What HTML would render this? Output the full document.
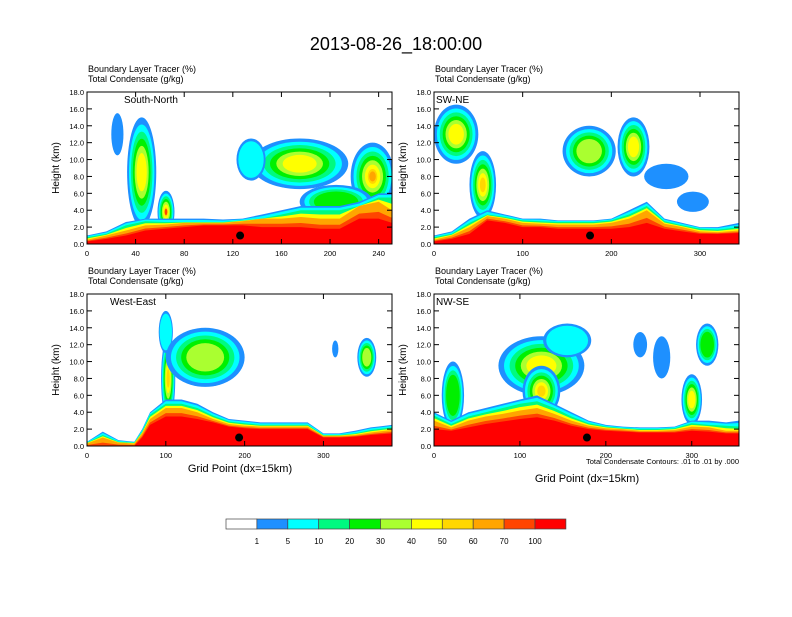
<!DOCTYPE html>
<html><head><meta charset="utf-8"><style>
body{margin:0;background:#fff;}
svg text{font-family:"Liberation Sans",sans-serif;}
</style></head><body>
<svg id="chart" width="792" height="612" xmlns="http://www.w3.org/2000/svg">
<rect width="792" height="612" fill="#fff"/>
<text x="396" y="50" text-anchor="middle" font-size="18">2013-08-26_18:00:00</text>
<g id="panels"></g>
<g id="legend"></g>
<text x="240" y="472" text-anchor="middle" font-size="11">Grid Point (dx=15km)</text>
<text x="587" y="482" text-anchor="middle" font-size="11">Grid Point (dx=15km)</text>
<text x="739" y="464" text-anchor="end" font-size="7.5">Total Condensate Contours: .01 to .01 by .000</text>
</svg>
<script>
const colors=["#ffffff","#1e90ff","#00ffff","#00fa80","#00f000","#aaff30","#ffff00","#ffd700","#ffa500","#ff4500","#ff0000"];
const legendLabels=["1","5","10","20","30","40","50","60","70","100"];
const panelTitles=["South-North","SW-NE","West-East","NW-SE"];
const panelXmax=[251,344,387,355];
const panelXticks=[[0,40,80,120,160,200,240],[0,100,200,300],[0,100,200,300],[0,100,200,300]];
const yTicks=[0,2,4,6,8,10,12,14,16,18];
// low-level layer heights (km) at sample points
const xsP1=[0,16,32,48,64,80,96,112,128,144,160,176,192,208,224,240,251];
const blueP1=[1,1.5,2.6,3,3,3,3,2.9,3,3.5,4,4.5,4.5,4.5,5,6,6];
const greenP1=[0.8,1.2,2.2,2.7,2.6,2.6,2.6,2.6,2.8,3,3.5,4,4,4,4.5,5.5,5.5];
const orangeP1=[0.5,1,1.6,2.2,2.3,2.5,2.5,2.5,2.7,3,3,3.2,3,3,4.5,5,4];
const redP1=[0.3,0.6,1,1.6,1.8,2,2.2,2.2,2.2,2,2,2,1.8,1.8,3,3,2.5];
const xsP2=[0,20,40,60,80,100,120,140,160,180,200,220,240,260,280,300,320,344];
const blueP2=[1,1.5,3,4,3.5,3,3,2.8,2.8,2.8,3,4,5,3,2.5,2,2,2.5];
const greenP2=[0.8,1.2,2.5,3.5,3.2,2.8,2.7,2.6,2.6,2.6,2.8,3.5,4.5,2.7,2.2,1.8,1.7,2];
const orangeP2=[0.5,1,2,3.3,3,2.5,2.4,2.3,2.3,2.3,2.5,3,4,2.4,2,1.5,1.4,1.6];
const redP2=[0.3,0.6,1.2,2.8,2.5,2,2,1.8,1.8,1.8,1.8,2,2.5,1.8,1.5,1.2,1.2,1.3];
const xsP3=[0,20,40,60,70,80,100,120,140,160,180,200,220,240,260,280,300,320,340,360,387];
const blueP3=[0.5,1.7,0.7,0.5,2,4,5.5,5.5,5,4,3.2,3,2.8,2.8,2.8,2.8,1.5,1.5,1.8,2.2,2.5];
const greenP3=[0.4,1.3,0.5,0.4,1.7,3.7,5,5,4.5,3.6,2.9,2.7,2.5,2.5,2.5,2.5,1.3,1.3,1.5,1.9,2.2];
const orangeP3=[0.3,1,0.4,0.3,1.5,3.2,4.5,4.5,4,3.2,2.6,2.4,2.3,2.3,2.3,2.3,1.2,1.2,1.3,1.6,1.9];
const redP3=[0,0,0,0,1,2.5,3.5,3.5,3.2,2.8,2.3,2.1,2,2,2,2,1,1,1.1,1.3,1.5];
const xsP4=[0,20,40,60,80,100,120,140,160,180,200,220,240,260,280,300,320,340,355];
const blueP4=[4,3,4,4.5,5,5.5,6,5,4,3,2.5,2.3,2.2,2.2,2.3,3,3,2.8,3];
const greenP4=[3.6,2.6,3.5,4,4.5,5,5.3,4.5,3.5,2.7,2.3,2.1,2,2,2.1,2.7,2.5,2.4,2.3];
const orangeP4=[3,2.2,3,3.5,3.8,4.2,4.5,3.8,3,2.4,2.1,2,1.8,1.8,1.9,2.3,2.2,1.8,1.8];
const redP4=[2,1.8,2.2,2.6,2.9,3.2,3.4,3,2.4,2,1.8,1.7,1.6,1.6,1.6,1.8,1.7,1.5,1.5];
// cloud blobs: [centerX, centerKm, radiusX, radiusKm, maxLevel]
const blobsP1=[[45,8.5,12,6.5,6],[25,13,5,2.5,1],[65,3.8,7,2.5,9],[175,9.5,40,3,6],[135,10,12,2.5,2],[235,8,18,4,8],[205,5,30,2,4]];
const blobsP2=[[25,13,25,3.5,6],[55,7,15,4,7],[175,11,30,3,5],[225,11.5,18,3.5,6],[262,8,25,1.5,1],[292,5,18,1.2,1]];
const blobsP3=[[103,8,9,5,7],[100,13.5,9,2.5,2],[150,10.5,50,3.5,5],[355,10.5,12,2.3,5],[315,11.5,4,1,1]];
const blobsP4=[[22,6,13,4,4],[125,9.5,50,3.5,6],[125,6.5,22,3,7],[155,12.5,28,2,2],[300,5.5,12,3,6],[318,12,13,2.5,4],[265,10.5,10,2.5,1],[240,12,8,1.5,1]];
const layersAll=[[xsP1,blueP1,greenP1,orangeP1,redP1],[xsP2,blueP2,greenP2,orangeP2,redP2],[xsP3,blueP3,greenP3,orangeP3,redP3],[xsP4,blueP4,greenP4,orangeP4,redP4]];
const blobsAll=[blobsP1,blobsP2,blobsP3,blobsP4];
const dotX=[126,176,193,178];
const NS="http://www.w3.org/2000/svg";
function mk(tag,attrs,parent){const e=document.createElementNS(NS,tag);for(const k in attrs)e.setAttribute(k,attrs[k]);parent.appendChild(e);return e;}
const boxes=[[87,92],[434,92],[87,294],[434,294]];
const W=305,H=152;
const root=document.getElementById('panels');
for(let p=0;p<4;p++){
  const [X0,Y0]=boxes[p];
  const g=mk('g',{},root);
  
  
  const sx=v=>X0+v/panelXmax[p]*W;
  const sy=v=>Y0+H-v/18*H;
  const cid='clip'+p;
  const cp=mk('clipPath',{id:cid},g);mk('rect',{x:X0,y:Y0,width:W,height:H},cp);
  const inner=mk('g',{'clip-path':'url(#'+cid+')'},g);
  blobsAll[p].forEach(b=>{
    for(let k=1;k<=b[4];k++){
      const f=Math.max(0.15,1-(k-1)*0.13);
      const e=mk('ellipse',{cx:sx(b[0]),cy:sy(b[1]),rx:b[2]/panelXmax[p]*W*f,ry:b[3]/18*H*f,fill:colors[k]},inner);
      
    }
  });
  const L=layersAll[p];const xs=L[0];
  function poly(arr,col,name){
    let d='M'+sx(xs[0])+','+sy(0);
    xs.forEach((x,i)=>{d+=' L'+sx(x)+','+sy(arr[i]);});
    d+=' L'+sx(xs[xs.length-1])+','+sy(0)+' Z';
    const e=mk('path',{d:d,fill:col},inner);
    
  }
  poly(L[1],colors[1],'layer-1');
  poly(L[1].map((v,i)=>(v*0.6+L[2][i]*0.4)),colors[2],'layer-5');
  poly(L[2],colors[3],'layer-20');
  poly(L[2].map((v,i)=>(v*0.5+L[3][i]*0.5)),colors[6],'layer-50');
  poly(L[3],colors[8],'layer-70');
  poly(L[3].map((v,i)=>(v*0.4+L[4][i]*0.6)),colors[9],'layer-80');
  poly(L[4],colors[10],'layer-100');
  const dot=mk('circle',{cx:sx(dotX[p]),cy:sy(1),r:4,fill:'#000'},inner);
  
  mk('rect',{x:X0,y:Y0,width:W,height:H,fill:'none',stroke:'#000','stroke-width':1},g);
  yTicks.forEach(t=>{
    const y=sy(t);
    mk('line',{x1:X0,y1:y,x2:X0+5,y2:y,stroke:'#000'},g);
    mk('line',{x1:X0+W,y1:y,x2:X0+W-5,y2:y,stroke:'#000'},g);
    const tx=mk('text',{x:X0-3,y:y+3,'text-anchor':'end','font-size':7.5},g);tx.textContent=t.toFixed(1);
    
  });
  panelXticks[p].forEach(t=>{
    const x=sx(t);
    mk('line',{x1:x,y1:Y0+H,x2:x,y2:Y0+H-5,stroke:'#000'},g);
    mk('line',{x1:x,y1:Y0,x2:x,y2:Y0+5,stroke:'#000'},g);
    const tx=mk('text',{x:x,y:Y0+H+12,'text-anchor':'middle','font-size':7.5},g);tx.textContent=t;
    
  });
  const yl=mk('text',{x:0,y:0,'text-anchor':'middle','font-size':10,transform:'translate('+(X0-28)+','+(Y0+H/2)+') rotate(-90)'},g);yl.textContent='Height (km)';
  
  const t1=mk('text',{x:X0+1,y:Y0-20,'font-size':9,'xml:space':'preserve'},g);t1.textContent='Boundary Layer Tracer    (%)';
  
  const t2=mk('text',{x:X0+1,y:Y0-10,'font-size':9,'xml:space':'preserve'},g);t2.textContent='Total Condensate    (g/kg)';
  
  const pt=mk('text',{x:X0+(p==0?37:(p==2?23:2)),y:Y0+11,'font-size':10},g);pt.textContent=panelTitles[p];
  
}
const lg=document.getElementById('legend');
for(let i=0;i<11;i++){
  const r=mk('rect',{x:226+i*30.9,y:519,width:30.9,height:10,fill:colors[i],stroke:'#444','stroke-width':0.7},lg);
  
}
legendLabels.forEach((l,i)=>{
  const t=mk('text',{x:226+(i+1)*30.9,y:544,'text-anchor':'middle','font-size':8},lg);t.textContent=l;
  
});
</script>
</body></html>
